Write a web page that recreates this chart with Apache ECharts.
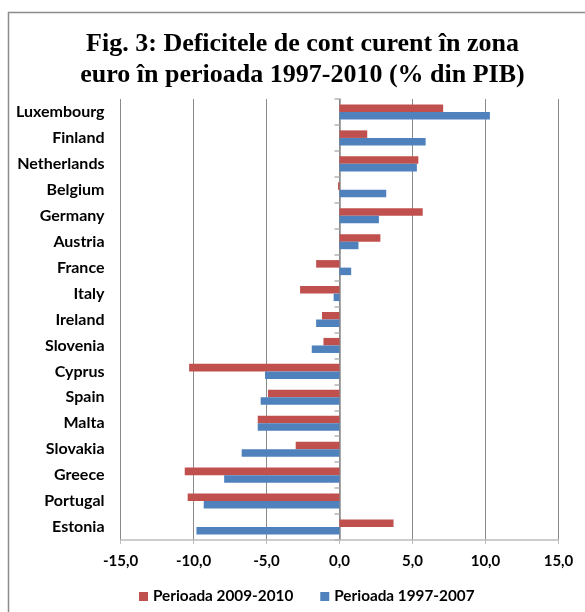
<!DOCTYPE html>
<html>
<head>
<meta charset="utf-8">
<script src="https://cdn.jsdelivr.net/npm/echarts@6/dist/echarts.min.js"></script>
<style>
html, body { margin: 0; padding: 0; background: #fff; }
#chart { width: 585px; height: 612px; }
</style>
</head>
<body>
<div id="chart"></div>
<script>
var countries = ['Luxembourg', 'Finland', 'Netherlands', 'Belgium', 'Germany', 'Austria', 'France', 'Italy',
    'Ireland', 'Slovenia', 'Cyprus', 'Spain', 'Malta', 'Slovakia', 'Greece', 'Portugal', 'Estonia']
var perioada2009 = [7.1, 1.9, 5.4, -0.1, 5.7, 2.8, -1.6, -2.7, -1.2, -1.1, -10.3, -4.9, -5.6, -3.0, -10.6, -10.4, 3.7]
var perioada1997 = [10.3, 5.9, 5.3, 3.2, 2.7, 1.3, 0.8, -0.4, -1.6, -1.9, -5.1, -5.4, -5.6, -6.7, -7.9, -9.3, -9.8]
var seriesNames = ['Perioada 2009-2010', 'Perioada 1997-2007']
var titleLines = ['Fig. 3: Deficitele de cont curent în zona', 'euro în perioada 1997-2010 (% din PIB)']
var xMin = -15, xMax = 15, xStep = 5

var labelFont = 'Lato'
var myChart = echarts.init(document.getElementById('chart'))
var option = {
    animation: false,
    color: ['#C0504D', '#4F81BD'],
    graphic: [
        {
            type: 'rect',
            shape: { x: 8.5, y: 12.5, width: 700, height: 700 },
            style: { fill: 'none', stroke: '#8c8c8c', lineWidth: 1.5 },
            silent: true
        },
        {
            type: 'text',
            x: 302.5, y: 44.7,
            style: {
                text: titleLines[0], fill: '#000', align: 'center', verticalAlign: 'middle',
                font: 'bold 26px "Liberation Serif", "Times New Roman", serif'
            }
        },
        {
            type: 'text',
            x: 302.5, y: 75,
            style: {
                text: titleLines[1], fill: '#000', align: 'center', verticalAlign: 'middle',
                font: 'bold 26px "Liberation Serif", "Times New Roman", serif'
            }
        }
    ],
    legend: {
        left: 134,
        top: 584,
        icon: 'rect',
        itemWidth: 9,
        itemHeight: 9,
        itemGap: 27,
        textStyle: { color: '#000', fontSize: 15.3, fontWeight: 'bold', fontFamily: labelFont },
        data: seriesNames
    },
    grid: {
        left: 120.5,
        right: 26.5,
        top: 99,
        bottom: 72,
        containLabel: false
    },
    xAxis: {
        type: 'value',
        min: xMin,
        max: xMax,
        interval: xStep,
        axisLine: { show: true, onZero: false, lineStyle: { color: '#bcbcbc', width: 1.5 } },
        axisTick: { show: true, length: 4, lineStyle: { color: '#bcbcbc' } },
        axisLabel: {
            color: '#000', fontSize: 15, fontWeight: 'bold', fontFamily: labelFont, margin: 14,
            formatter: function (v) { return v.toFixed(1).replace('.', ',') }
        },
        splitLine: { show: true, lineStyle: { color: '#8a8a8a', width: 1 } }
    },
    yAxis: [
        {
            type: 'category',
            inverse: true,
            position: 'left',
            data: countries,
            axisLine: { show: false, onZero: false },
            axisTick: { show: false },
            axisLabel: { color: '#000', fontSize: 16, fontWeight: 'bold', fontFamily: labelFont, margin: 16 }
        },
        {
            // zero line with its small ticks (Excel style)
            type: 'category',
            inverse: true,
            position: 'left',
            data: countries,
            axisLine: { show: true, onZero: true, lineStyle: { color: '#8a8a8a', width: 1.5 } },
            axisTick: { show: true, length: 5, lineStyle: { color: '#b4b4b4', width: 1.5 } },
            axisLabel: { show: false }
        }
    ],
    series: [
        {
            name: seriesNames[0],
            type: 'bar',
            yAxisIndex: 0,
            barGap: '0%',
            barCategoryGap: '42%',
            data: perioada2009
        },
        {
            name: seriesNames[1],
            type: 'bar',
            yAxisIndex: 0,
            barGap: '0%',
            barCategoryGap: '42%',
            data: perioada1997
        }
    ]
}
myChart.setOption(option)
</script>
</body>
</html>
